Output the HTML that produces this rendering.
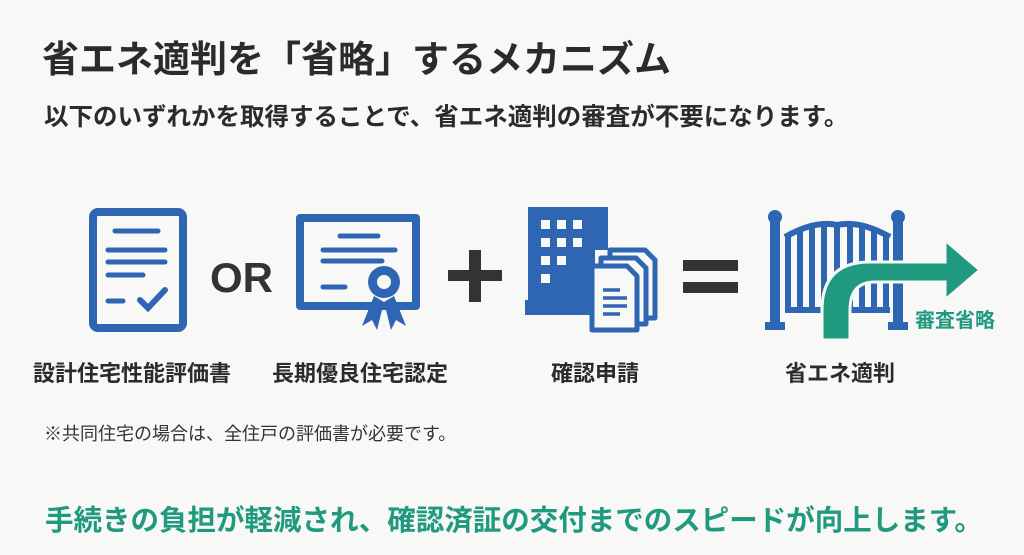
<!DOCTYPE html>
<html><head><meta charset="utf-8"><style>
body{margin:0;width:1024px;height:555px;background:#f8f8f6;overflow:hidden;font-family:"Liberation Sans","Noto Sans CJK JP",sans-serif;}
.t{position:absolute;white-space:nowrap;font-weight:bold;color:#2b2b2b;}
</style></head><body>
<div class="t" style="left:42px;top:38px;font-size:37px;line-height:44px;">省エネ適判を「省略」するメカニズム</div>
<div class="t" style="left:44px;top:103px;font-size:24.5px;line-height:30px;">以下のいずれかを取得することで、省エネ適判の審査が不要になります。</div>
<svg width="1024" height="555" style="position:absolute;left:0;top:0">
<g fill="none" stroke="#2f66b3" stroke-linecap="round">
<rect x="93" y="212" width="90" height="116" rx="5" stroke-width="8"/>
<g stroke-width="5"><line x1="115" y1="231" x2="158" y2="231"/><line x1="108" y1="250" x2="165" y2="250"/><line x1="108" y1="262" x2="165" y2="262"/><line x1="108" y1="275" x2="143" y2="275"/><line x1="108" y1="301" x2="123" y2="301"/><polyline points="140,300 148,308 165,290" stroke-width="6"/></g>
<path d="M300 218 H416 V306 H300 Z" stroke-width="8" stroke-linejoin="round"/>
<g stroke-width="5"><line x1="340" y1="236" x2="378" y2="236"/><line x1="323" y1="250" x2="395" y2="250"/><line x1="323" y1="261" x2="382" y2="261"/><line x1="323" y1="287" x2="345" y2="287"/></g>
</g>
<g fill="#2f66b3">
<circle cx="384" cy="282" r="16"/><circle cx="384" cy="282" r="7" fill="#f8f8f6"/>
<path d="M374 296 L362 326 L372 320 L377 330 L384 302 Z"/><path d="M394 296 L406 326 L396 320 L391 330 L384 302 Z"/>
<path d="M528 207 H608 V250 H595 V315 H525 V300 H528 Z"/>
</g>
<g fill="#f8f8f6"><rect x="541" y="220" width="9" height="9"/><rect x="557" y="220" width="9" height="9"/><rect x="573" y="220" width="9" height="9"/><rect x="541" y="238" width="9" height="9"/><rect x="557" y="238" width="9" height="9"/><rect x="573" y="238" width="9" height="9"/><rect x="541" y="256" width="9" height="9"/><rect x="557" y="256" width="9" height="9"/><rect x="541" y="274" width="9" height="9"/></g>
<g fill="#f8f8f6" stroke="#2f66b3" stroke-width="5" stroke-linejoin="round">
<path d="M610 250 H645 L655 260 V318 H610 Z"/><path d="M601 258 H636 L646 268 V324 H601 Z"/><path d="M592 266 H627 L637 276 V330 H592 Z"/></g>
<g stroke="#2f66b3" stroke-width="3.5"><line x1="603" y1="290" x2="620" y2="290"/><line x1="603" y1="298" x2="627" y2="298"/><line x1="603" y1="306" x2="627" y2="306"/><line x1="603" y1="314" x2="620" y2="314"/></g>
<text x="210" y="292" font-family="Liberation Sans" font-weight="bold" font-size="42" fill="#333">OR</text>
<rect x="448" y="270" width="54" height="11" fill="#333"/><rect x="469" y="250" width="12" height="52" fill="#333"/>
<rect x="683" y="260" width="55" height="11" fill="#333"/><rect x="683" y="282" width="55" height="11" fill="#333"/>
<g fill="#2f66b3"><circle cx="775" cy="217" r="7"/><circle cx="898" cy="217" r="7"/>
<rect x="770" y="222" width="10" height="105"/><rect x="893" y="222" width="10" height="105"/>
<rect x="765" y="322" width="20" height="8"/><rect x="888" y="322" width="20" height="8"/></g>
<g fill="none" stroke="#2f66b3" stroke-width="6">
<path d="M785 237 Q815 220 837 225 Q860 220 890 237"/><line x1="785" y1="310" x2="890" y2="310"/>
<line x1="788" y1="236" x2="788" y2="310"/><line x1="800" y1="230" x2="800" y2="310"/><line x1="812" y1="226" x2="812" y2="310"/><line x1="824" y1="225" x2="824" y2="310"/><line x1="837" y1="225" x2="837" y2="310"/><line x1="850" y1="225" x2="850" y2="310"/><line x1="862" y1="227" x2="862" y2="310"/><line x1="874" y1="231" x2="874" y2="310"/><line x1="886" y1="235" x2="886" y2="310"/></g>
<path d="M822 340 V310 Q822 262 870 262 H945 V240 L980 270 L945 300 V282 H875 Q850 282 850 310 V340 Z" fill="#1f9a7e" stroke="#f8f8f6" stroke-width="3"/>
<text x="915" y="327" font-family="Liberation Sans,Noto Sans CJK JP,sans-serif" font-weight="bold" font-size="20" fill="#1f9a7e">審査省略</text>
</svg>
<div class="t" style="left:33px;top:356px;font-size:22px;">設計住宅性能評価書</div>
<div class="t" style="left:272px;top:356px;font-size:22px;">長期優良住宅認定</div>
<div class="t" style="left:551px;top:356px;font-size:22px;">確認申請</div>
<div class="t" style="left:785px;top:356px;font-size:22px;">省エネ適判</div>
<div class="t" style="left:44px;top:420px;font-size:18px;font-weight:normal;color:#333;">※共同住宅の場合は、全住戸の評価書が必要です。</div>
<div class="t" style="left:45px;top:498px;font-size:28.5px;color:#1f9a7e;">手続きの負担が軽減され、確認済証の交付までのスピードが向上します。</div>
</body></html>
